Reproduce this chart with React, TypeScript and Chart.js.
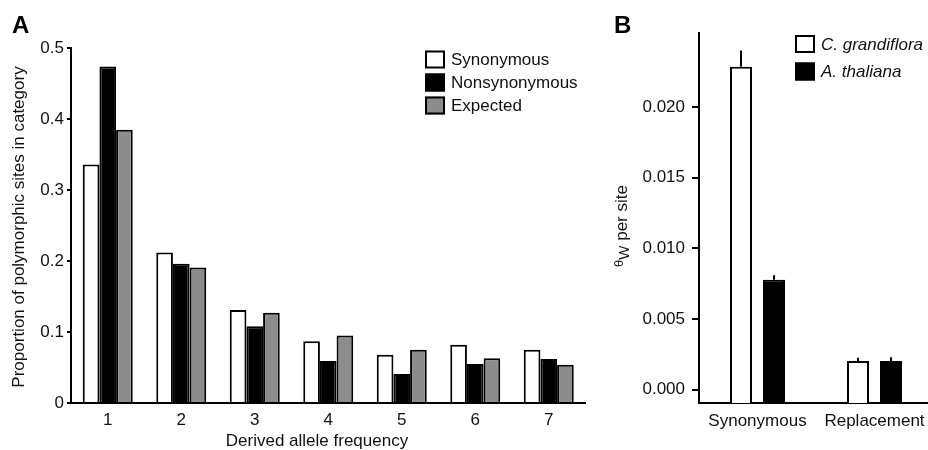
import React, { useEffect, useRef } from 'react';
import { Chart, registerables } from 'chart.js';

Chart.register(...registerables);

const FONT = "'Liberation Sans', Arial, Helvetica, sans-serif";
const TEXT = '#111';

// Panel A data
const A_CATEGORIES = ['1', '2', '3', '4', '5', '6', '7'];
const A_SYNONYMOUS = [0.336, 0.212, 0.131, 0.087, 0.068, 0.082, 0.075];
const A_NONSYNONYMOUS = [0.474, 0.196, 0.108, 0.059, 0.041, 0.055, 0.062];
const A_EXPECTED = [0.385, 0.191, 0.127, 0.095, 0.075, 0.063, 0.054];
const A_TICKS = [0, 0.1, 0.2, 0.3, 0.4, 0.5];
const A_TICK_LABELS = ['0', '0.1', '0.2', '0.3', '0.4', '0.5'];
const A_SERIES_NAMES = ['Synonymous', 'Nonsynonymous', 'Expected'];

// Panel B data
const B_CATEGORIES = ['Synonymous', 'Replacement'];
const B_GRANDIFLORA = [0.02285, 0.00203];
const B_THALIANA = [0.00777, 0.00203];
const B_GRANDIFLORA_ERR = [0.024, 0.00226];
const B_THALIANA_ERR = [0.0081, 0.0023];
const B_TICKS = [0, 0.005, 0.01, 0.015, 0.02];
const B_TICK_LABELS = ['0.000', '0.005', '0.010', '0.015', '0.020'];
const B_SERIES_NAMES = ['C. grandiflora', 'A. thaliana'];
const B_Y_MIN = -0.00094;
const B_Y_MAX = 0.02523;

const CANVAS_H = 455;
const A_W = 592;
const B_LEFT = 590;
const B_W = 345;

const WHITE = '#ffffff';
const BLACK = '#000000';
const GRAY = '#8c8c8c';

function drawLegend(ctx: CanvasRenderingContext2D, x: number, y0: number, step: number, names: string[], colors: string[], italic: boolean) {
  ctx.save();
  names.forEach((name, i) => {
    const cy = y0 + i * step;
    ctx.fillStyle = colors[i];
    ctx.fillRect(x, cy - 9, 20, 18);
    ctx.strokeStyle = BLACK;
    ctx.lineWidth = 2;
    ctx.strokeRect(x + 1, cy - 8, 18, 16);
    ctx.fillStyle = TEXT;
    ctx.font = `${italic ? 'italic ' : ''}17px ${FONT}`;
    ctx.textAlign = 'left';
    ctx.textBaseline = 'middle';
    ctx.fillText(name, x + 26, cy + 1);
  });
  ctx.restore();
}

const annotateA = {
  id: 'annotateA',
  afterDraw(chart: any) {
    const ctx = chart.ctx as CanvasRenderingContext2D;
    ctx.save();
    ctx.fillStyle = BLACK;
    ctx.font = `bold 24px ${FONT}`;
    ctx.textAlign = 'left';
    ctx.textBaseline = 'alphabetic';
    ctx.fillText('A', 12, 33);
    ctx.fillStyle = TEXT;
    ctx.font = `17px ${FONT}`;
    ctx.textAlign = 'center';
    ctx.textBaseline = 'middle';
    ctx.fillText('Derived allele frequency', 317, 441);
    ctx.translate(19, 227);
    ctx.rotate(-Math.PI / 2);
    ctx.fillText('Proportion of polymorphic sites in category', 0, 0);
    ctx.restore();
    drawLegend(ctx, 425, 59.5, 23, A_SERIES_NAMES, [WHITE, BLACK, GRAY], false);
  },
};

const annotateB = {
  id: 'annotateB',
  afterDatasetsDraw(chart: any) {
    const ctx = chart.ctx as CanvasRenderingContext2D;
    const yScale = chart.scales.y;
    const errs = [B_GRANDIFLORA_ERR, B_THALIANA_ERR];
    ctx.save();
    ctx.strokeStyle = BLACK;
    ctx.lineWidth = 2;
    errs.forEach((arr, i) => {
      const meta = chart.getDatasetMeta(i);
      meta.data.forEach((el: any, j: number) => {
        const x = Math.round(el.x);
        const yTop = el.y;
        const yErr = yScale.getPixelForValue(arr[j]);
        ctx.beginPath();
        ctx.moveTo(x, yTop);
        ctx.lineTo(x, yErr);
        ctx.stroke();
      });
    });
    ctx.restore();
  },
  afterDraw(chart: any) {
    const ctx = chart.ctx as CanvasRenderingContext2D;
    ctx.save();
    ctx.fillStyle = BLACK;
    ctx.font = `bold 24px ${FONT}`;
    ctx.textAlign = 'left';
    ctx.textBaseline = 'alphabetic';
    ctx.fillText('B', 614 - B_LEFT, 33);
    // y title: θ_W per site
    ctx.fillStyle = TEXT;
    ctx.translate(32, 226);
    ctx.rotate(-Math.PI / 2);
    ctx.textBaseline = 'middle';
    ctx.font = `13px ${FONT}`;
    const wTheta = ctx.measureText('θ').width;
    ctx.font = `15px ${FONT}`;
    const wW = ctx.measureText('W').width;
    ctx.font = `17px ${FONT}`;
    const wRest = ctx.measureText(' per site').width;
    let x = -(wTheta + wW + wRest) / 2;
    ctx.textAlign = 'left';
    ctx.font = `13px ${FONT}`;
    ctx.fillText('θ', x, -3);
    x += wTheta;
    ctx.font = `15px ${FONT}`;
    ctx.fillText('W', x, 3);
    x += wW;
    ctx.font = `17px ${FONT}`;
    ctx.fillText(' per site', x, 0);
    ctx.restore();
    drawLegend(ctx, 795 - B_LEFT, 44, 27.5, B_SERIES_NAMES, [WHITE, BLACK], true);
  },
};

function ChartA() {
  const ref = useRef<HTMLCanvasElement | null>(null);
  useEffect(() => {
    if (!ref.current) return;
    const chart = new Chart(ref.current, {
      type: 'bar',
      data: {
        labels: A_CATEGORIES,
        datasets: [
          { label: A_SERIES_NAMES[0], data: A_SYNONYMOUS, backgroundColor: WHITE, borderColor: BLACK, borderWidth: 2 },
          { label: A_SERIES_NAMES[1], data: A_NONSYNONYMOUS, backgroundColor: BLACK, borderColor: BLACK, borderWidth: 2 },
          { label: A_SERIES_NAMES[2], data: A_EXPECTED, backgroundColor: GRAY, borderColor: BLACK, borderWidth: 2 },
        ],
      },
      options: {
        animation: false,
        responsive: false,
        devicePixelRatio: 1,
        layout: { padding: { left: 5, top: 48, right: A_W - 585.5, bottom: 0 } },
        datasets: { bar: { barPercentage: 1, categoryPercentage: 0.68 } },
        plugins: { legend: { display: false }, tooltip: { enabled: false }, title: { display: false } },
        scales: {
          x: {
            type: 'category',
            offset: true,
            grid: { display: false, drawTicks: false },
            border: { display: true, color: BLACK, width: 2 },
            ticks: { color: TEXT, font: { family: FONT, size: 17 }, padding: 7, maxRotation: 0, autoSkip: false },
            afterFit: (s: any) => { s.height = CANVAS_H - 403; },
          },
          y: {
            type: 'linear',
            min: 0,
            max: 0.5,
            grid: { drawOnChartArea: false, drawTicks: true, tickLength: 4, color: BLACK, lineWidth: 2 },
            border: { display: true, color: BLACK, width: 2 },
            ticks: {
              color: TEXT,
              font: { family: FONT, size: 17 },
              padding: 3,
              callback: (_v: any, i: number) => A_TICK_LABELS[i],
            },
            afterBuildTicks: (s: any) => { s.ticks = A_TICKS.map((v) => ({ value: v })); },
            afterFit: (s: any) => { s.width = 66; },
          },
        },
      },
      plugins: [annotateA],
    } as any);
    return () => chart.destroy();
  }, []);
  return (
    <canvas
      ref={ref}
      width={A_W}
      height={CANVAS_H}
      style={{ position: 'absolute', left: 0, top: 0, width: A_W, height: CANVAS_H }}
    />
  );
}

function ChartB() {
  const ref = useRef<HTMLCanvasElement | null>(null);
  useEffect(() => {
    if (!ref.current) return;
    const chart = new Chart(ref.current, {
      type: 'bar',
      data: {
        labels: B_CATEGORIES,
        datasets: [
          { label: B_SERIES_NAMES[0], data: B_GRANDIFLORA, backgroundColor: WHITE, borderColor: BLACK, borderWidth: 2, base: B_Y_MIN },
          { label: B_SERIES_NAMES[1], data: B_THALIANA, backgroundColor: BLACK, borderColor: BLACK, borderWidth: 2, base: B_Y_MIN },
        ],
      },
      options: {
        animation: false,
        responsive: false,
        devicePixelRatio: 1,
        layout: { padding: { left: 0, top: 33, right: 2, bottom: 0 } },
        datasets: { bar: { barPercentage: 0.667, categoryPercentage: 0.564 } },
        plugins: { legend: { display: false }, tooltip: { enabled: false }, title: { display: false } },
        scales: {
          x: {
            type: 'category',
            offset: true,
            grid: { display: false, drawTicks: false },
            border: { display: true, color: BLACK, width: 2 },
            ticks: { color: TEXT, font: { family: FONT, size: 17 }, padding: 8, maxRotation: 0, autoSkip: false },
            afterFit: (s: any) => { s.height = CANVAS_H - 403; },
          },
          y: {
            type: 'linear',
            min: B_Y_MIN,
            max: B_Y_MAX,
            grid: { drawOnChartArea: false, drawTicks: true, tickLength: 7, color: BLACK, lineWidth: 2 },
            border: { display: true, color: BLACK, width: 2 },
            ticks: {
              color: TEXT,
              font: { family: FONT, size: 17 },
              padding: 7,
              callback: (_v: any, i: number) => B_TICK_LABELS[i],
            },
            afterBuildTicks: (s: any) => { s.ticks = B_TICKS.map((v) => ({ value: v })); },
            afterFit: (s: any) => { s.width = 109; },
          },
        },
      },
      plugins: [annotateB],
    } as any);
    return () => chart.destroy();
  }, []);
  return (
    <canvas
      ref={ref}
      width={B_W}
      height={CANVAS_H}
      style={{ position: 'absolute', left: B_LEFT, top: 0, width: B_W, height: CANVAS_H }}
    />
  );
}

export default function App() {
  return (
    <div
      style={{
        position: 'absolute',
        left: 0,
        top: 0,
        width: 928,
        height: 450,
        overflow: 'hidden',
        background: '#ffffff',
      }}
    >
      <ChartA />
      <ChartB />
    </div>
  );
}
